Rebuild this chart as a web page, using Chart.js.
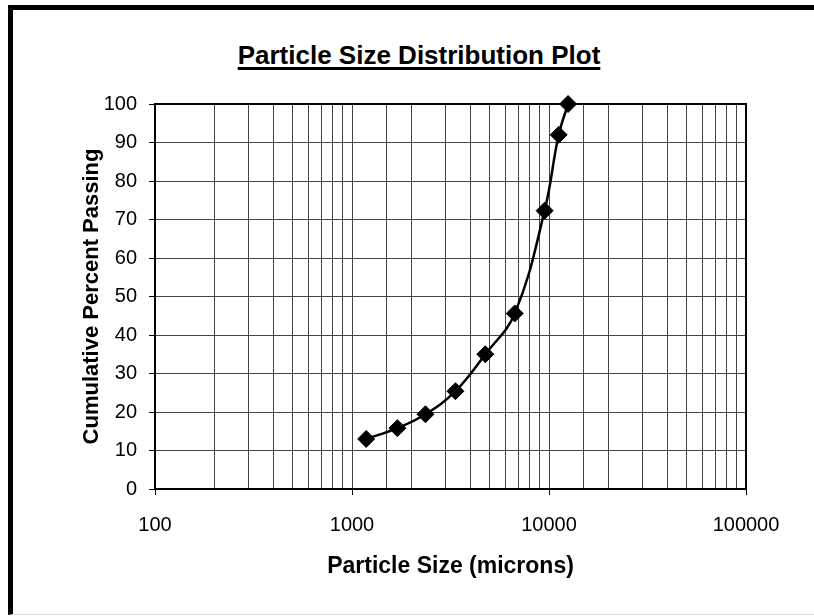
<!DOCTYPE html>
<html>
<head>
<meta charset="utf-8">
<script src="https://cdn.jsdelivr.net/npm/chart.js@4"></script>
<style>
  html, body { margin: 0; padding: 0; background: #fff; }
  #wrap { position: relative; width: 814px; height: 616px; overflow: hidden; }
  #frame {
    position: absolute; left: 8px; top: 5px; width: 820px; height: 604px;
    border-left: 5px solid #000; border-top: 5px solid #000;
    border-bottom: 1px solid #ddd;
  }
  #title {
    position: absolute; left: 0; width: 838px; top: 40px; text-align: center;
    font: bold 26px "Liberation Sans", Arial, sans-serif; text-decoration: underline;
    text-underline-offset: 3px; text-decoration-thickness: 3px;
  }
  canvas { position: absolute; left: 0; top: 0; }
</style>
</head>
<body>
<div id="wrap">
  <div id="frame"></div>
  <div id="title">Particle Size Distribution Plot</div>
  <canvas id="psdChart" width="814" height="616"></canvas>
</div>
<script>
const sizes = [1180, 1700, 2360, 3350, 4750, 6700, 9500, 11200, 12500];
const passing = [13, 15.8, 19.4, 25.4, 35, 45.6, 72.3, 92, 100];
const yTicks = [0, 10, 20, 30, 40, 50, 60, 70, 80, 90, 100];

const fontFamily = '"Liberation Sans", Arial, sans-serif';

function isDecade(v) {
  const l = Math.log10(v);
  return Math.abs(l - Math.round(l)) < 1e-9;
}

// black box round the plot area
const plotBorder = {
  id: 'plotBorder',
  beforeDatasetsDraw(chart) {
    const { ctx, chartArea: a } = chart;
    ctx.save();
    ctx.strokeStyle = '#000';
    ctx.lineWidth = 2;
    ctx.strokeRect(a.left, a.top, a.right - a.left, a.bottom - a.top);
    ctx.restore();
  }
};

const ctx = document.getElementById('psdChart').getContext('2d');
new Chart(ctx, {
  type: 'line',
  data: {
    datasets: [{
      label: 'Passing',
      data: sizes.map((s, i) => ({ x: s, y: passing[i] })),
      borderColor: '#000',
      borderWidth: 2.5,
      tension: 0.4,
      pointStyle: 'rectRot',
      pointRadius: 8.5,
      pointHoverRadius: 8.5,
      pointBackgroundColor: '#000',
      pointBorderColor: '#000',
      pointBorderWidth: 1,
      clip: false,
      fill: false
    }]
  },
  options: {
    responsive: false,
    animation: false,
    events: [],
    layout: { padding: { left: 79, right: 68, top: 104, bottom: 27 } },
    plugins: {
      legend: { display: false },
      tooltip: { enabled: false }
    },
    scales: {
      x: {
        type: 'logarithmic',
        min: 100,
        max: 100000,
        afterFit(scale) { scale.height = 100; },
        grid: {
          color: '#444',
          lineWidth: 1,
          tickLength: 6,
          tickColor: (c) => (c.tick && isDecade(c.tick.value)) ? '#000' : 'rgba(0,0,0,0)'
        },
        border: { color: '#000', width: 2 },
        ticks: {
          autoSkip: false,
          maxRotation: 0,
          padding: 18,
          color: '#000',
          font: { family: fontFamily, size: 20 },
          callback: (v) => isDecade(v) ? String(v) : ''
        },
        title: {
          display: true,
          text: 'Particle Size (microns)',
          color: '#000',
          font: { family: fontFamily, size: 23, weight: 'bold' },
          padding: { top: 0, bottom: 9 }
        }
      },
      y: {
        min: 0,
        max: 100,
        afterFit(scale) { scale.width = 76; },
        afterBuildTicks(scale) { scale.ticks = yTicks.map(v => ({ value: v })); },
        grid: { color: '#444', lineWidth: 1, tickLength: 6, tickColor: '#000' },
        border: { color: '#000', width: 2 },
        ticks: {
          padding: 12,
          color: '#000',
          font: { family: fontFamily, size: 20 }
        },
        title: {
          display: true,
          text: 'Cumulative Percent Passing',
          color: '#000',
          font: { family: fontFamily, size: 22, weight: 'bold' },
          padding: { top: 0, bottom: 0 }
        }
      }
    }
  },
  plugins: [plotBorder]
});
</script>
</body>
</html>
